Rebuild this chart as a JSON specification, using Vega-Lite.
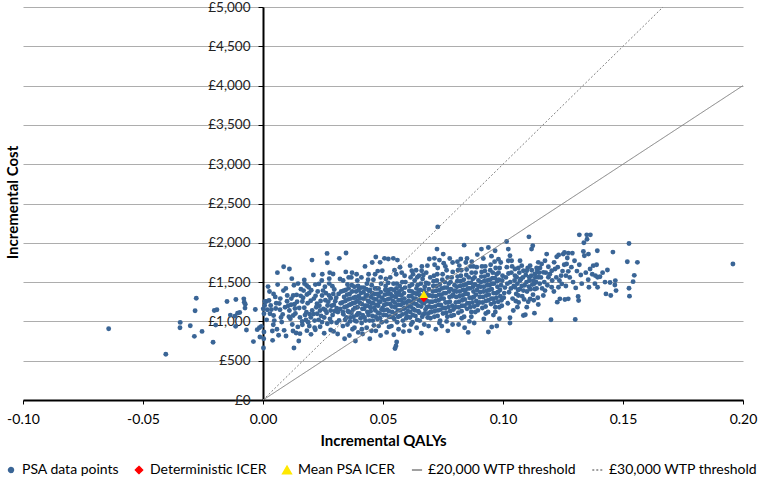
{
"$schema":"https://vega.github.io/schema/vega-lite/v6.json",
"width":720,"height":393,
"autosize":{"type":"none"},
"padding":{"left":23,"top":7,"right":18,"bottom":81},
"background":"white",
"config":{"view":{"stroke":null},"font":"Lato","axis":{"labelFont":"Lato","titleFont":"Lato"},"legend":{"labelFont":"Lato"}},
"datasets":{
"wtp":[{"s":"T2","q":0,"c":0},{"s":"T2","q":0.2,"c":4000},{"s":"T3","q":0,"c":0},{"s":"T3","q":0.166667,"c":5000}],
"icer":[{"s":"D","q":0.067,"c":1290},{"s":"M","q":0.067,"c":1345}],
"psa":[
{"s":"P","q":-0.0643,"c":907},{"s":"P","q":-0.0405,"c":582},{"s":"P","q":-0.0345,"c":987},{"s":"P","q":-0.0346,"c":920},{"s":"P","q":-0.0303,"c":945},{"s":"P","q":-0.0286,"c":810},{"s":"P","q":-0.0283,"c":1135},{"s":"P","q":-0.0278,"c":1295},{"s":"P","q":-0.0254,"c":873},{"s":"P","q":-0.0208,"c":734},{"s":"P","q":-0.0203,"c":1139},{"s":"P","q":-0.0192,"c":1148},{"s":"P","q":-0.0197,"c":953},{"s":"P","q":-0.015,"c":1253},{"s":"P","q":-0.0136,"c":1080},{"s":"P","q":-0.0117,"c":1067},{"s":"P","q":-0.0114,"c":937},{"s":"P","q":-0.0113,"c":1278},{"s":"P","q":-0.0106,"c":1105},{"s":"P","q":-0.0097,"c":1114},{"s":"P","q":-0.008,"c":1287},{"s":"P","q":-0.0078,"c":1245},{"s":"P","q":-0.0075,"c":1169},{"s":"P","q":-0.0074,"c":1219},{"s":"P","q":-0.0069,"c":890},{"s":"P","q":-0.004,"c":743},{"s":"P","q":-0.0032,"c":1152},{"s":"P","q":-0.0024,"c":895},{"s":"P","q":-0.0015,"c":920},{"s":"P","q":-0.0013,"c":801},{"s":"P","q":-0.0007,"c":937},
{"s":"P","q":0.0204,"c":1780},{"s":"P","q":0.0267,"c":1865},{"s":"P","q":0.0268,"c":1747},{"s":"P","q":0.0318,"c":1802},{"s":"P","q":0.0086,"c":1696},{"s":"P","q":0.011,"c":1667},{"s":"P","q":0.006,"c":1620},{"s":"P","q":0.012,"c":1544},{"s":"P","q":0.021,"c":1591},{"s":"P","q":0.0247,"c":1599},{"s":"P","q":0.0172,"c":1527},{"s":"P","q":0.0292,"c":1603},{"s":"P","q":0.0276,"c":1544},{"s":"P","q":0.0321,"c":1540},{"s":"P","q":0.0021,"c":1443},{"s":"P","q":0.0061,"c":1468},{"s":"P","q":0.0129,"c":1460},{"s":"P","q":0.0146,"c":1481},{"s":"P","q":0.0182,"c":1456},{"s":"P","q":0.019,"c":1434},{"s":"P","q":0.0218,"c":1468},{"s":"P","q":0.0233,"c":1477},{"s":"P","q":0.0276,"c":1481},{"s":"P","q":0.0289,"c":1447},{"s":"P","q":0.0297,"c":1405},{"s":"P","q":0.0085,"c":1392},{"s":"P","q":0.0044,"c":1350},{"s":"P","q":0.0169,"c":1392},{"s":"P","q":0.0201,"c":1397},{"s":"P","q":0.025,"c":1392},{"s":"P","q":0.0315,"c":1350},{"s":"P","q":0.0013,"c":1253},{"s":"P","q":0.0025,"c":1266},{"s":"P","q":0.0051,"c":1312},{"s":"P","q":0.0101,"c":1329},{"s":"P","q":0.0126,"c":1329},{"s":"P","q":0.014,"c":1337},{"s":"P","q":0.0157,"c":1325},{"s":"P","q":0.0183,"c":1342},{"s":"P","q":0.0219,"c":1325},{"s":"P","q":0.0246,"c":1329},{"s":"P","q":0.026,"c":1270},{"s":"P","q":0.0282,"c":1295},{"s":"P","q":0.0301,"c":1257},{"s":"P","q":0.0007,"c":1202},{"s":"P","q":0.0032,"c":1202},{"s":"P","q":0.0068,"c":1228},{"s":"P","q":0.01,"c":1257},{"s":"P","q":0.0117,"c":1211},{"s":"P","q":0.0131,"c":1219},{"s":"P","q":0.0164,"c":1253},{"s":"P","q":0.0199,"c":1262},{"s":"P","q":0.0225,"c":1224},{"s":"P","q":0.0269,"c":1202},{"s":"P","q":0.0001,"c":1160},{"s":"P","q":0.0018,"c":1148},{"s":"P","q":0.0053,"c":1164},{"s":"P","q":0.0071,"c":1148},{"s":"P","q":0.011,"c":1139},{"s":"P","q":0.0133,"c":1164},{"s":"P","q":0.0172,"c":1173},{"s":"P","q":0.0181,"c":1118},{"s":"P","q":0.0194,"c":1093},{"s":"P","q":0.021,"c":1093},{"s":"P","q":0.0238,"c":1139},{"s":"P","q":0.026,"c":1143},{"s":"P","q":0.0282,"c":1139},{"s":"P","q":0.0307,"c":1169},{"s":"P","q":0.0004,"c":1097},{"s":"P","q":0.0029,"c":1097},{"s":"P","q":0.0044,"c":1076},{"s":"P","q":0.0082,"c":1089},{"s":"P","q":0.0126,"c":1076},{"s":"P","q":0.0154,"c":1051},{"s":"P","q":0.0163,"c":1000},{"s":"P","q":0.0179,"c":1017},{"s":"P","q":0.0199,"c":1051},{"s":"P","q":0.0226,"c":1097},{"s":"P","q":0.0246,"c":991},{"s":"P","q":0.0268,"c":970},{"s":"P","q":0.0285,"c":991},{"s":"P","q":0.0307,"c":983},{"s":"P","q":0.0317,"c":1013},{"s":"P","q":0.0078,"c":991},{"s":"P","q":0.0043,"c":958},{"s":"P","q":0.0114,"c":1034},{"s":"P","q":0.0164,"c":958},{"s":"P","q":0.0193,"c":941},{"s":"P","q":0.0088,"c":886},{"s":"P","q":0.0125,"c":878},{"s":"P","q":0.0138,"c":852},{"s":"P","q":0.0154,"c":844},{"s":"P","q":0.0183,"c":882},{"s":"P","q":0.0218,"c":894},{"s":"P","q":0.0238,"c":932},{"s":"P","q":0.0282,"c":890},{"s":"P","q":0.0039,"c":878},{"s":"P","q":0.004,"c":759},{"s":"P","q":0.0065,"c":823},{"s":"P","q":0.0096,"c":814},{"s":"P","q":0.0149,"c":751},{"s":"P","q":0.02,"c":835},{"s":"P","q":0.0294,"c":873},{"s":"P","q":0.0311,"c":840},{"s":"P","q":0.0004,"c":865},{"s":"P","q":0.0129,"c":662},{"s":"P","q":0.0002,"c":662},{"s":"P","q":0.0003,"c":780},{"s":"P","q":0.0008,"c":1253},
{"s":"P","q":0.0222,"c":1180},{"s":"P","q":0.0255,"c":1050},{"s":"P","q":0.0272,"c":1250},{"s":"P","q":0.029,"c":1080},{"s":"P","q":0.0305,"c":1300},{"s":"P","q":0.0312,"c":1120},{"s":"P","q":0.0262,"c":1360},{"s":"P","q":0.024,"c":1260},{"s":"P","q":0.0295,"c":1210},{"s":"P","q":0.0232,"c":1020},
{"s":"P","q":0.0015,"c":1020},{"s":"P","q":0.0035,"c":1150},{"s":"P","q":0.0055,"c":1230},{"s":"P","q":0.0075,"c":1050},{"s":"P","q":0.0092,"c":1180},{"s":"P","q":0.0058,"c":900},{"s":"P","q":0.0027,"c":1380},{"s":"P","q":0.0095,"c":1420},{"s":"P","q":0.0072,"c":1290},{"s":"P","q":0.0047,"c":1010},
{"s":"P","q":0.0105,"c":1200},{"s":"P","q":0.0118,"c":1290},{"s":"P","q":0.0122,"c":960},{"s":"P","q":0.0135,"c":1100},{"s":"P","q":0.0142,"c":1250},{"s":"P","q":0.0151,"c":1170},{"s":"P","q":0.0158,"c":1410},{"s":"P","q":0.0167,"c":1300},{"s":"P","q":0.0175,"c":1080},{"s":"P","q":0.0186,"c":1230},{"s":"P","q":0.0192,"c":1360},{"s":"P","q":0.0108,"c":1060},{"s":"P","q":0.0145,"c":930},{"s":"P","q":0.0173,"c":1480},{"s":"P","q":0.0188,"c":990},
{"s":"P","q":0.0205,"c":1140},{"s":"P","q":0.0212,"c":1290},{"s":"P","q":0.0215,"c":1010},{"s":"P","q":0.0228,"c":1380},{"s":"P","q":0.0235,"c":1200},{"s":"P","q":0.0242,"c":1070},{"s":"P","q":0.0252,"c":1160},{"s":"P","q":0.0258,"c":1440},{"s":"P","q":0.0265,"c":1110},{"s":"P","q":0.0275,"c":1330},{"s":"P","q":0.0279,"c":1030},{"s":"P","q":0.0286,"c":1200},{"s":"P","q":0.0293,"c":1350},{"s":"P","q":0.0299,"c":1130},{"s":"P","q":0.0245,"c":1520},{"s":"P","q":0.0278,"c":1620},{"s":"P","q":0.0215,"c":920},{"s":"P","q":0.0255,"c":850},
{"s":"P","q":0.0322,"c":1160},{"s":"P","q":0.0331,"c":1240},{"s":"P","q":0.0335,"c":1090},{"s":"P","q":0.0338,"c":1310},{"s":"P","q":0.0342,"c":1020},{"s":"P","q":0.0345,"c":1400},{"s":"P","q":0.0349,"c":1190},{"s":"P","q":0.0352,"c":960},{"s":"P","q":0.0355,"c":1280},{"s":"P","q":0.0358,"c":1120},{"s":"P","q":0.0361,"c":1350},{"s":"P","q":0.0364,"c":1050},{"s":"P","q":0.0367,"c":1220},{"s":"P","q":0.037,"c":1460},{"s":"P","q":0.0373,"c":900},{"s":"P","q":0.0376,"c":1150},{"s":"P","q":0.0379,"c":1300},{"s":"P","q":0.0382,"c":1010},{"s":"P","q":0.0385,"c":1240},{"s":"P","q":0.0388,"c":1380},{"s":"P","q":0.0391,"c":1080},{"s":"P","q":0.0394,"c":1180},{"s":"P","q":0.0397,"c":860},{"s":"P","q":0.0399,"c":1320},{"s":"P","q":0.0334,"c":1520},{"s":"P","q":0.0345,"c":1630},{"s":"P","q":0.0368,"c":1560},{"s":"P","q":0.039,"c":1600},{"s":"P","q":0.0346,"c":1870},{"s":"P","q":0.034,"c":780},{"s":"P","q":0.036,"c":820},{"s":"P","q":0.0385,"c":750},{"s":"P","q":0.0396,"c":1450},{"s":"P","q":0.0326,"c":1380},{"s":"P","q":0.0352,"c":1470},
{"s":"P","q":0.03235,"c":1230},{"s":"P","q":0.03325,"c":1120},{"s":"P","q":0.03365,"c":1390},{"s":"P","q":0.03395,"c":1180},{"s":"P","q":0.03435,"c":1260},{"s":"P","q":0.03475,"c":1050},{"s":"P","q":0.03505,"c":1340},{"s":"P","q":0.03535,"c":1130},{"s":"P","q":0.03565,"c":1420},{"s":"P","q":0.03595,"c":1210},{"s":"P","q":0.03625,"c":1000},{"s":"P","q":0.03655,"c":1290},{"s":"P","q":0.03685,"c":1110},{"s":"P","q":0.03715,"c":1380},{"s":"P","q":0.03745,"c":1230},{"s":"P","q":0.03775,"c":1060},{"s":"P","q":0.03805,"c":1440},{"s":"P","q":0.03835,"c":1170},{"s":"P","q":0.03865,"c":1310},{"s":"P","q":0.03895,"c":1000},{"s":"P","q":0.03925,"c":1260},{"s":"P","q":0.03955,"c":1100},{"s":"P","q":0.03985,"c":1400},{"s":"P","q":0.0333,"c":940},{"s":"P","q":0.0357,"c":1560},{"s":"P","q":0.0381,"c":920},{"s":"P","q":0.0371,"c":1620},{"s":"P","q":0.0393,"c":1520},
{"s":"P","q":0.0402,"c":1100},{"s":"P","q":0.0405,"c":1230},{"s":"P","q":0.0408,"c":1360},{"s":"P","q":0.0411,"c":980},{"s":"P","q":0.0414,"c":1160},{"s":"P","q":0.0417,"c":1290},{"s":"P","q":0.042,"c":1430},{"s":"P","q":0.0423,"c":1050},{"s":"P","q":0.0426,"c":1200},{"s":"P","q":0.0429,"c":1330},{"s":"P","q":0.0432,"c":920},{"s":"P","q":0.0435,"c":1120},{"s":"P","q":0.0438,"c":1260},{"s":"P","q":0.0441,"c":1390},{"s":"P","q":0.0444,"c":1010},{"s":"P","q":0.0447,"c":1180},{"s":"P","q":0.045,"c":1310},{"s":"P","q":0.0453,"c":1460},{"s":"P","q":0.0456,"c":1070},{"s":"P","q":0.0459,"c":1230},{"s":"P","q":0.0462,"c":950},{"s":"P","q":0.0465,"c":1350},{"s":"P","q":0.0468,"c":1140},{"s":"P","q":0.0471,"c":1280},{"s":"P","q":0.0474,"c":1420},{"s":"P","q":0.0477,"c":1030},{"s":"P","q":0.048,"c":1200},{"s":"P","q":0.0483,"c":1320},{"s":"P","q":0.0486,"c":1100},{"s":"P","q":0.0489,"c":1250},{"s":"P","q":0.0492,"c":1480},{"s":"P","q":0.0495,"c":990},{"s":"P","q":0.0498,"c":1170},{"s":"P","q":0.041,"c":1560},{"s":"P","q":0.0425,"c":1700},{"s":"P","q":0.044,"c":1600},{"s":"P","q":0.0455,"c":1750},{"s":"P","q":0.047,"c":1820},{"s":"P","q":0.0478,"c":1640},{"s":"P","q":0.049,"c":1560},{"s":"P","q":0.0488,"c":1751},{"s":"P","q":0.0415,"c":840},{"s":"P","q":0.0445,"c":780},{"s":"P","q":0.047,"c":880},{"s":"P","q":0.049,"c":820},{"s":"P","q":0.046,"c":1530},{"s":"P","q":0.0433,"c":1480},
{"s":"P","q":0.04035,"c":1290},{"s":"P","q":0.04065,"c":1040},{"s":"P","q":0.04095,"c":1430},{"s":"P","q":0.04125,"c":1220},{"s":"P","q":0.04155,"c":1080},{"s":"P","q":0.04185,"c":1370},{"s":"P","q":0.04215,"c":1160},{"s":"P","q":0.04245,"c":1290},{"s":"P","q":0.04275,"c":1010},{"s":"P","q":0.04305,"c":1410},{"s":"P","q":0.04335,"c":1200},{"s":"P","q":0.04365,"c":1330},{"s":"P","q":0.04395,"c":1080},{"s":"P","q":0.04425,"c":1250},{"s":"P","q":0.04455,"c":1400},{"s":"P","q":0.04485,"c":1130},{"s":"P","q":0.04515,"c":1230},{"s":"P","q":0.04545,"c":1360},{"s":"P","q":0.04575,"c":1010},{"s":"P","q":0.04605,"c":1290},{"s":"P","q":0.04635,"c":1170},{"s":"P","q":0.04665,"c":1420},{"s":"P","q":0.04695,"c":1060},{"s":"P","q":0.04725,"c":1210},{"s":"P","q":0.04755,"c":1350},{"s":"P","q":0.04785,"c":1110},{"s":"P","q":0.04815,"c":1420},{"s":"P","q":0.04845,"c":1250},{"s":"P","q":0.04875,"c":1040},{"s":"P","q":0.04905,"c":1370},{"s":"P","q":0.04935,"c":1150},{"s":"P","q":0.04965,"c":1300},{"s":"P","q":0.0412,"c":900},{"s":"P","q":0.0452,"c":880},{"s":"P","q":0.0482,"c":940},{"s":"P","q":0.0438,"c":1530},{"s":"P","q":0.0467,"c":1600},
{"s":"P","q":0.0506,"c":1802},{"s":"P","q":0.0522,"c":1793},{"s":"P","q":0.0543,"c":1802},{"s":"P","q":0.056,"c":1780},{"s":"P","q":0.0497,"c":1645},{"s":"P","q":0.0571,"c":1688},{"s":"P","q":0.0557,"c":738},{"s":"P","q":0.0554,"c":688},{"s":"P","q":0.055,"c":655},{"s":"P","q":0.0502,"c":1080},{"s":"P","q":0.0505,"c":1210},{"s":"P","q":0.0508,"c":1340},{"s":"P","q":0.0511,"c":1450},{"s":"P","q":0.0514,"c":1000},{"s":"P","q":0.0517,"c":1150},{"s":"P","q":0.052,"c":1280},{"s":"P","q":0.0523,"c":1400},{"s":"P","q":0.0526,"c":1060},{"s":"P","q":0.0529,"c":1220},{"s":"P","q":0.0532,"c":1350},{"s":"P","q":0.0535,"c":940},{"s":"P","q":0.0538,"c":1120},{"s":"P","q":0.0541,"c":1260},{"s":"P","q":0.0544,"c":1480},{"s":"P","q":0.0547,"c":1030},{"s":"P","q":0.055,"c":1180},{"s":"P","q":0.0553,"c":1310},{"s":"P","q":0.0556,"c":1420},{"s":"P","q":0.0559,"c":990},{"s":"P","q":0.0562,"c":1140},{"s":"P","q":0.0565,"c":1270},{"s":"P","q":0.0568,"c":1380},{"s":"P","q":0.0571,"c":1070},{"s":"P","q":0.0574,"c":1210},{"s":"P","q":0.0577,"c":1330},{"s":"P","q":0.058,"c":1500},{"s":"P","q":0.0583,"c":1010},{"s":"P","q":0.0586,"c":1160},{"s":"P","q":0.0589,"c":1290},{"s":"P","q":0.0592,"c":1430},{"s":"P","q":0.0595,"c":1100},{"s":"P","q":0.0598,"c":1240},{"s":"P","q":0.053,"c":1560},{"s":"P","q":0.0555,"c":1600},{"s":"P","q":0.059,"c":1580},{"s":"P","q":0.0515,"c":860},{"s":"P","q":0.0545,"c":830},{"s":"P","q":0.0565,"c":900},{"s":"P","q":0.0585,"c":870},
{"s":"P","q":0.05035,"c":1140},{"s":"P","q":0.05065,"c":1270},{"s":"P","q":0.05095,"c":1400},{"s":"P","q":0.05125,"c":1080},{"s":"P","q":0.05155,"c":1220},{"s":"P","q":0.05185,"c":1350},{"s":"P","q":0.05215,"c":1490},{"s":"P","q":0.05245,"c":1130},{"s":"P","q":0.05275,"c":1290},{"s":"P","q":0.05305,"c":1060},{"s":"P","q":0.05335,"c":1410},{"s":"P","q":0.05365,"c":1190},{"s":"P","q":0.05395,"c":1320},{"s":"P","q":0.05425,"c":1050},{"s":"P","q":0.05455,"c":1400},{"s":"P","q":0.05485,"c":1240},{"s":"P","q":0.05515,"c":1100},{"s":"P","q":0.05545,"c":1360},{"s":"P","q":0.05575,"c":1480},{"s":"P","q":0.05605,"c":1210},{"s":"P","q":0.05635,"c":1060},{"s":"P","q":0.05665,"c":1340},{"s":"P","q":0.05695,"c":1450},{"s":"P","q":0.05725,"c":1140},{"s":"P","q":0.05755,"c":1270},{"s":"P","q":0.05785,"c":1410},{"s":"P","q":0.05815,"c":1090},{"s":"P","q":0.05845,"c":1230},{"s":"P","q":0.05875,"c":1360},{"s":"P","q":0.05905,"c":1170},{"s":"P","q":0.05935,"c":1500},{"s":"P","q":0.05965,"c":1040},{"s":"P","q":0.0512,"c":1540},{"s":"P","q":0.0548,"c":1650},{"s":"P","q":0.0578,"c":1620},{"s":"P","q":0.0525,"c":930},{"s":"P","q":0.0588,"c":950},
{"s":"P","q":0.0613,"c":1709},{"s":"P","q":0.062,"c":1645},{"s":"P","q":0.0661,"c":1645},{"s":"P","q":0.0685,"c":1709},{"s":"P","q":0.0668,"c":1591},{"s":"P","q":0.0643,"c":1561},{"s":"P","q":0.0693,"c":1793},{"s":"P","q":0.0714,"c":1802},{"s":"P","q":0.0725,"c":1920},{"s":"P","q":0.0728,"c":2202},{"s":"P","q":0.0602,"c":1060},{"s":"P","q":0.0605,"c":1190},{"s":"P","q":0.0608,"c":1320},{"s":"P","q":0.0611,"c":1450},{"s":"P","q":0.0614,"c":1120},{"s":"P","q":0.0617,"c":1250},{"s":"P","q":0.062,"c":1380},{"s":"P","q":0.0623,"c":990},{"s":"P","q":0.0626,"c":1160},{"s":"P","q":0.0629,"c":1290},{"s":"P","q":0.0632,"c":1520},{"s":"P","q":0.0635,"c":1070},{"s":"P","q":0.0638,"c":1220},{"s":"P","q":0.0641,"c":1350},{"s":"P","q":0.0644,"c":1460},{"s":"P","q":0.0647,"c":1130},{"s":"P","q":0.065,"c":1270},{"s":"P","q":0.0653,"c":1010},{"s":"P","q":0.0656,"c":1400},{"s":"P","q":0.0659,"c":1190},{"s":"P","q":0.0662,"c":1320},{"s":"P","q":0.0665,"c":1540},{"s":"P","q":0.0668,"c":1090},{"s":"P","q":0.0671,"c":1230},{"s":"P","q":0.0674,"c":1440},{"s":"P","q":0.0677,"c":1150},{"s":"P","q":0.068,"c":1360},{"s":"P","q":0.0683,"c":1260},{"s":"P","q":0.0686,"c":1050},{"s":"P","q":0.0689,"c":1480},{"s":"P","q":0.0692,"c":1190},{"s":"P","q":0.0695,"c":1330},{"s":"P","q":0.0698,"c":1120},{"s":"P","q":0.061,"c":880},{"s":"P","q":0.064,"c":920},{"s":"P","q":0.066,"c":850},{"s":"P","q":0.069,"c":940},{"s":"P","q":0.0625,"c":1600},{"s":"P","q":0.065,"c":1580},{"s":"P","q":0.068,"c":1620},{"s":"P","q":0.0697,"c":1560},
{"s":"P","q":0.06035,"c":1130},{"s":"P","q":0.06065,"c":1260},{"s":"P","q":0.06095,"c":1390},{"s":"P","q":0.06125,"c":1050},{"s":"P","q":0.06155,"c":1190},{"s":"P","q":0.06185,"c":1320},{"s":"P","q":0.06215,"c":1470},{"s":"P","q":0.06245,"c":1080},{"s":"P","q":0.06275,"c":1230},{"s":"P","q":0.06305,"c":1360},{"s":"P","q":0.06335,"c":1140},{"s":"P","q":0.06365,"c":1290},{"s":"P","q":0.06395,"c":1420},{"s":"P","q":0.06425,"c":1020},{"s":"P","q":0.06455,"c":1200},{"s":"P","q":0.06485,"c":1380},{"s":"P","q":0.06515,"c":1110},{"s":"P","q":0.06545,"c":1330},{"s":"P","q":0.06575,"c":1480},{"s":"P","q":0.06605,"c":1250},{"s":"P","q":0.06635,"c":1060},{"s":"P","q":0.06705,"c":1390},{"s":"P","q":0.06735,"c":1100},{"s":"P","q":0.06765,"c":1280},{"s":"P","q":0.06795,"c":1490},{"s":"P","q":0.06825,"c":1180},{"s":"P","q":0.06855,"c":1330},{"s":"P","q":0.06885,"c":1100},{"s":"P","q":0.06915,"c":1410},{"s":"P","q":0.06945,"c":1250},{"s":"P","q":0.06975,"c":1040},{"s":"P","q":0.0615,"c":1560},{"s":"P","q":0.0638,"c":1650},{"s":"P","q":0.0662,"c":1700},{"s":"P","q":0.0617,"c":960},{"s":"P","q":0.0672,"c":960},
{"s":"P","q":0.0751,"c":1856},{"s":"P","q":0.0702,"c":1120},{"s":"P","q":0.0705,"c":1250},{"s":"P","q":0.0708,"c":1380},{"s":"P","q":0.0711,"c":1510},{"s":"P","q":0.0714,"c":1060},{"s":"P","q":0.0717,"c":1190},{"s":"P","q":0.072,"c":1320},{"s":"P","q":0.0723,"c":1450},{"s":"P","q":0.0726,"c":1600},{"s":"P","q":0.0729,"c":1140},{"s":"P","q":0.0732,"c":1270},{"s":"P","q":0.0735,"c":1400},{"s":"P","q":0.0738,"c":1010},{"s":"P","q":0.0741,"c":1210},{"s":"P","q":0.0744,"c":1340},{"s":"P","q":0.0747,"c":1530},{"s":"P","q":0.075,"c":1100},{"s":"P","q":0.0753,"c":1290},{"s":"P","q":0.0756,"c":1430},{"s":"P","q":0.0759,"c":1170},{"s":"P","q":0.0762,"c":1360},{"s":"P","q":0.0765,"c":1650},{"s":"P","q":0.0768,"c":1060},{"s":"P","q":0.0771,"c":1240},{"s":"P","q":0.0774,"c":1480},{"s":"P","q":0.0777,"c":1310},{"s":"P","q":0.078,"c":1130},{"s":"P","q":0.0783,"c":1410},{"s":"P","q":0.0786,"c":1560},{"s":"P","q":0.0789,"c":1200},{"s":"P","q":0.0792,"c":1340},{"s":"P","q":0.0795,"c":1080},{"s":"P","q":0.0798,"c":1460},{"s":"P","q":0.0715,"c":1720},{"s":"P","q":0.0735,"c":1780},{"s":"P","q":0.076,"c":1700},{"s":"P","q":0.079,"c":1750},{"s":"P","q":0.072,"c":900},{"s":"P","q":0.0745,"c":940},{"s":"P","q":0.077,"c":880},{"s":"P","q":0.079,"c":960},
{"s":"P","q":0.07035,"c":1180},{"s":"P","q":0.07065,"c":1320},{"s":"P","q":0.07095,"c":1450},{"s":"P","q":0.07125,"c":1580},{"s":"P","q":0.07155,"c":1130},{"s":"P","q":0.07185,"c":1260},{"s":"P","q":0.07215,"c":1390},{"s":"P","q":0.07245,"c":1520},{"s":"P","q":0.07275,"c":1070},{"s":"P","q":0.07305,"c":1210},{"s":"P","q":0.07335,"c":1340},{"s":"P","q":0.07365,"c":1470},{"s":"P","q":0.07395,"c":1150},{"s":"P","q":0.07425,"c":1290},{"s":"P","q":0.07455,"c":1420},{"s":"P","q":0.07485,"c":1600},{"s":"P","q":0.07515,"c":1170},{"s":"P","q":0.07545,"c":1360},{"s":"P","q":0.07575,"c":1500},{"s":"P","q":0.07605,"c":1240},{"s":"P","q":0.07635,"c":1110},{"s":"P","q":0.07665,"c":1430},{"s":"P","q":0.07695,"c":1560},{"s":"P","q":0.07725,"c":1180},{"s":"P","q":0.07755,"c":1380},{"s":"P","q":0.07785,"c":1250},{"s":"P","q":0.07815,"c":1500},{"s":"P","q":0.07845,"c":1070},{"s":"P","q":0.07875,"c":1320},{"s":"P","q":0.07905,"c":1630},{"s":"P","q":0.07935,"c":1150},{"s":"P","q":0.07965,"c":1390},{"s":"P","q":0.0728,"c":1680},{"s":"P","q":0.0753,"c":1740},{"s":"P","q":0.0778,"c":1800},{"s":"P","q":0.0735,"c":980},{"s":"P","q":0.0765,"c":1000},
{"s":"P","q":0.0802,"c":1180},{"s":"P","q":0.0805,"c":1310},{"s":"P","q":0.0808,"c":1440},{"s":"P","q":0.0811,"c":1570},{"s":"P","q":0.0814,"c":1110},{"s":"P","q":0.0817,"c":1250},{"s":"P","q":0.082,"c":1380},{"s":"P","q":0.0823,"c":1510},{"s":"P","q":0.0826,"c":1650},{"s":"P","q":0.0829,"c":1200},{"s":"P","q":0.0832,"c":1330},{"s":"P","q":0.0835,"c":1460},{"s":"P","q":0.0838,"c":1060},{"s":"P","q":0.0841,"c":1280},{"s":"P","q":0.0844,"c":1400},{"s":"P","q":0.0847,"c":1590},{"s":"P","q":0.085,"c":1160},{"s":"P","q":0.0853,"c":1350},{"s":"P","q":0.0856,"c":1490},{"s":"P","q":0.0859,"c":1230},{"s":"P","q":0.0862,"c":1420},{"s":"P","q":0.0865,"c":1700},{"s":"P","q":0.0868,"c":1120},{"s":"P","q":0.0871,"c":1300},{"s":"P","q":0.0874,"c":1540},{"s":"P","q":0.0877,"c":1380},{"s":"P","q":0.088,"c":1190},{"s":"P","q":0.0883,"c":1470},{"s":"P","q":0.0886,"c":1620},{"s":"P","q":0.0889,"c":1260},{"s":"P","q":0.0892,"c":1400},{"s":"P","q":0.0895,"c":1140},{"s":"P","q":0.0898,"c":1520},{"s":"P","q":0.081,"c":1760},{"s":"P","q":0.0838,"c":1970},{"s":"P","q":0.0824,"c":1793},{"s":"P","q":0.085,"c":1800},{"s":"P","q":0.087,"c":1760},{"s":"P","q":0.0893,"c":1850},{"s":"P","q":0.0815,"c":960},{"s":"P","q":0.084,"c":920},{"s":"P","q":0.086,"c":1000},{"s":"P","q":0.088,"c":980},{"s":"P","q":0.0855,"c":860},
{"s":"P","q":0.08035,"c":1240},{"s":"P","q":0.08065,"c":1380},{"s":"P","q":0.08095,"c":1510},{"s":"P","q":0.08125,"c":1650},{"s":"P","q":0.08155,"c":1180},{"s":"P","q":0.08185,"c":1320},{"s":"P","q":0.08215,"c":1450},{"s":"P","q":0.08245,"c":1580},{"s":"P","q":0.08275,"c":1130},{"s":"P","q":0.08305,"c":1270},{"s":"P","q":0.08335,"c":1400},{"s":"P","q":0.08365,"c":1530},{"s":"P","q":0.08395,"c":1200},{"s":"P","q":0.08425,"c":1350},{"s":"P","q":0.08455,"c":1470},{"s":"P","q":0.08485,"c":1660},{"s":"P","q":0.08515,"c":1230},{"s":"P","q":0.08545,"c":1420},{"s":"P","q":0.08575,"c":1560},{"s":"P","q":0.08605,"c":1300},{"s":"P","q":0.08635,"c":1180},{"s":"P","q":0.08665,"c":1490},{"s":"P","q":0.08695,"c":1620},{"s":"P","q":0.08725,"c":1240},{"s":"P","q":0.08755,"c":1440},{"s":"P","q":0.08785,"c":1310},{"s":"P","q":0.08815,"c":1560},{"s":"P","q":0.08845,"c":1120},{"s":"P","q":0.08875,"c":1340},{"s":"P","q":0.08905,"c":1690},{"s":"P","q":0.08935,"c":1210},{"s":"P","q":0.08965,"c":1450},{"s":"P","q":0.0818,"c":1710},{"s":"P","q":0.0845,"c":1750},{"s":"P","q":0.0877,"c":1700},{"s":"P","q":0.0828,"c":1040},{"s":"P","q":0.0868,"c":1060},
{"s":"P","q":0.0902,"c":1240},{"s":"P","q":0.0905,"c":1370},{"s":"P","q":0.0908,"c":1500},{"s":"P","q":0.0911,"c":1630},{"s":"P","q":0.0914,"c":1170},{"s":"P","q":0.0917,"c":1310},{"s":"P","q":0.092,"c":1440},{"s":"P","q":0.0923,"c":1570},{"s":"P","q":0.0926,"c":1700},{"s":"P","q":0.0929,"c":1260},{"s":"P","q":0.0932,"c":1390},{"s":"P","q":0.0935,"c":1520},{"s":"P","q":0.0938,"c":1120},{"s":"P","q":0.0941,"c":1340},{"s":"P","q":0.0944,"c":1460},{"s":"P","q":0.0947,"c":1650},{"s":"P","q":0.095,"c":1220},{"s":"P","q":0.0953,"c":1410},{"s":"P","q":0.0956,"c":1550},{"s":"P","q":0.0959,"c":1290},{"s":"P","q":0.0962,"c":1480},{"s":"P","q":0.0965,"c":1760},{"s":"P","q":0.0968,"c":1180},{"s":"P","q":0.0971,"c":1360},{"s":"P","q":0.0974,"c":1600},{"s":"P","q":0.0977,"c":1440},{"s":"P","q":0.098,"c":1250},{"s":"P","q":0.0983,"c":1530},{"s":"P","q":0.0986,"c":1680},{"s":"P","q":0.0989,"c":1320},{"s":"P","q":0.0992,"c":1460},{"s":"P","q":0.0995,"c":1200},{"s":"P","q":0.0998,"c":1580},{"s":"P","q":0.091,"c":1920},{"s":"P","q":0.0939,"c":1941},{"s":"P","q":0.0967,"c":1899},{"s":"P","q":0.0974,"c":941},{"s":"P","q":0.0953,"c":928},{"s":"P","q":0.0939,"c":865},{"s":"P","q":0.0985,"c":1034},{"s":"P","q":0.092,"c":1030},{"s":"P","q":0.096,"c":1080},
{"s":"P","q":0.09035,"c":1310},{"s":"P","q":0.09065,"c":1440},{"s":"P","q":0.09095,"c":1570},{"s":"P","q":0.09125,"c":1700},{"s":"P","q":0.09155,"c":1240},{"s":"P","q":0.09185,"c":1380},{"s":"P","q":0.09215,"c":1510},{"s":"P","q":0.09245,"c":1640},{"s":"P","q":0.09275,"c":1190},{"s":"P","q":0.09305,"c":1330},{"s":"P","q":0.09335,"c":1460},{"s":"P","q":0.09365,"c":1590},{"s":"P","q":0.09395,"c":1270},{"s":"P","q":0.09425,"c":1400},{"s":"P","q":0.09455,"c":1530},{"s":"P","q":0.09485,"c":1720},{"s":"P","q":0.09515,"c":1290},{"s":"P","q":0.09545,"c":1480},{"s":"P","q":0.09575,"c":1620},{"s":"P","q":0.09605,"c":1360},{"s":"P","q":0.09635,"c":1240},{"s":"P","q":0.09665,"c":1550},{"s":"P","q":0.09695,"c":1680},{"s":"P","q":0.09725,"c":1300},{"s":"P","q":0.09755,"c":1510},{"s":"P","q":0.09785,"c":1370},{"s":"P","q":0.09815,"c":1620},{"s":"P","q":0.09845,"c":1180},{"s":"P","q":0.09875,"c":1400},{"s":"P","q":0.09905,"c":1750},{"s":"P","q":0.09935,"c":1270},{"s":"P","q":0.09965,"c":1520},{"s":"P","q":0.0918,"c":1800},{"s":"P","q":0.0952,"c":1830},{"s":"P","q":0.0981,"c":1790},{"s":"P","q":0.0928,"c":1100},{"s":"P","q":0.0968,"c":1120},
{"s":"P","q":0.1003,"c":1300},{"s":"P","q":0.1008,"c":1430},{"s":"P","q":0.1012,"c":1560},{"s":"P","q":0.1016,"c":1690},{"s":"P","q":0.102,"c":1230},{"s":"P","q":0.1025,"c":1370},{"s":"P","q":0.103,"c":1500},{"s":"P","q":0.1035,"c":1620},{"s":"P","q":0.104,"c":1290},{"s":"P","q":0.1045,"c":1450},{"s":"P","q":0.105,"c":1580},{"s":"P","q":0.1055,"c":1350},{"s":"P","q":0.106,"c":1480},{"s":"P","q":0.1065,"c":1240},{"s":"P","q":0.107,"c":1410},{"s":"P","q":0.1075,"c":1540},{"s":"P","q":0.108,"c":1320},{"s":"P","q":0.109,"c":1460},{"s":"P","q":0.1095,"c":1590},{"s":"P","q":0.11,"c":1380},{"s":"P","q":0.1105,"c":1250},{"s":"P","q":0.111,"c":1520},{"s":"P","q":0.1115,"c":1410},{"s":"P","q":0.112,"c":1650},{"s":"P","q":0.1125,"c":1340},{"s":"P","q":0.113,"c":1480},{"s":"P","q":0.1135,"c":1560},{"s":"P","q":0.114,"c":1420},{"s":"P","q":0.1145,"c":1300},{"s":"P","q":0.115,"c":1620},
{"s":"P","q":0.1005,"c":1360},{"s":"P","q":0.1018,"c":1480},{"s":"P","q":0.1023,"c":1610},{"s":"P","q":0.1033,"c":1420},{"s":"P","q":0.1038,"c":1700},{"s":"P","q":0.1048,"c":1520},{"s":"P","q":0.1053,"c":1260},{"s":"P","q":0.1063,"c":1400},{"s":"P","q":0.1068,"c":1620},{"s":"P","q":0.1078,"c":1450},{"s":"P","q":0.1083,"c":1560},{"s":"P","q":0.1088,"c":1280},{"s":"P","q":0.1098,"c":1500},{"s":"P","q":0.1103,"c":1680},{"s":"P","q":0.1108,"c":1440},{"s":"P","q":0.1118,"c":1580},{"s":"P","q":0.1128,"c":1270},{"s":"P","q":0.1138,"c":1500},{"s":"P","q":0.1143,"c":1640},{"s":"P","q":0.1153,"c":1480},{"s":"P","q":0.1158,"c":1560},{"s":"P","q":0.1163,"c":1420},{"s":"P","q":0.1172,"c":1500},{"s":"P","q":0.1178,"c":1620},{"s":"P","q":0.1185,"c":1460},{"s":"P","q":0.1195,"c":1600},{"s":"P","q":0.1205,"c":1520},{"s":"P","q":0.1212,"c":1380},{"s":"P","q":0.1222,"c":1560},{"s":"P","q":0.1228,"c":1690},{"s":"P","q":0.1235,"c":1520},{"s":"P","q":0.1248,"c":1640},{"s":"P","q":0.1255,"c":1720},{"s":"P","q":0.1262,"c":1450},{"s":"P","q":0.1278,"c":1560},{"s":"P","q":0.1285,"c":1690},{"s":"P","q":0.1292,"c":1500},{"s":"P","q":0.1308,"c":1640},{"s":"P","q":0.1318,"c":1720},{"s":"P","q":0.1328,"c":1480},{"s":"P","q":0.1345,"c":1620},{"s":"P","q":0.1355,"c":1530},{"s":"P","q":0.1372,"c":1600},{"s":"P","q":0.1383,"c":1480},{"s":"P","q":0.1415,"c":1620},{"s":"P","q":0.1425,"c":1500},
{"s":"P","q":0.1958,"c":1730},{"s":"P","q":0.156,"c":1751},{"s":"P","q":0.1518,"c":1759},{"s":"P","q":0.1525,"c":1991},{"s":"P","q":0.1547,"c":1586},{"s":"P","q":0.1542,"c":1506},{"s":"P","q":0.1525,"c":1422},{"s":"P","q":0.1527,"c":1321},{"s":"P","q":0.1471,"c":1392},{"s":"P","q":0.1466,"c":1464},{"s":"P","q":0.1468,"c":1519},{"s":"P","q":0.1446,"c":1494},{"s":"P","q":0.1449,"c":1329},{"s":"P","q":0.1429,"c":1350},{"s":"P","q":0.1435,"c":1654},{"s":"P","q":0.1458,"c":1882},{"s":"P","q":0.1393,"c":1899},{"s":"P","q":0.1394,"c":1561},{"s":"P","q":0.1394,"c":1434},{"s":"P","q":0.1404,"c":1569},{"s":"P","q":0.1385,"c":1582},{"s":"P","q":0.1376,"c":1709},{"s":"P","q":0.139,"c":1721},{"s":"P","q":0.1363,"c":1667},{"s":"P","q":0.1358,"c":1434},{"s":"P","q":0.1356,"c":1856},{"s":"P","q":0.1339,"c":1835},{"s":"P","q":0.1335,"c":1890},{"s":"P","q":0.1318,"c":2101},{"s":"P","q":0.1349,"c":2101},{"s":"P","q":0.1364,"c":2101},{"s":"P","q":0.135,"c":2046},{"s":"P","q":0.1337,"c":2000},{"s":"P","q":0.1324,"c":1590},{"s":"P","q":0.1313,"c":1316},{"s":"P","q":0.1315,"c":1266},{"s":"P","q":0.1301,"c":1025},{"s":"P","q":0.1303,"c":1426},{"s":"P","q":0.1298,"c":1772},{"s":"P","q":0.1289,"c":1869},{"s":"P","q":0.1272,"c":1869},{"s":"P","q":0.1256,"c":1877},{"s":"P","q":0.1268,"c":1806},{"s":"P","q":0.1251,"c":1856},{"s":"P","q":0.1232,"c":1844},{"s":"P","q":0.1224,"c":1823},{"s":"P","q":0.1265,"c":1730},{"s":"P","q":0.1272,"c":1637},{"s":"P","q":0.1262,"c":1582},{"s":"P","q":0.1242,"c":1582},{"s":"P","q":0.1245,"c":1477},{"s":"P","q":0.1231,"c":1434},{"s":"P","q":0.1272,"c":1287},{"s":"P","q":0.1258,"c":1278},{"s":"P","q":0.1237,"c":1287},{"s":"P","q":0.1226,"c":1245},{"s":"P","q":0.12,"c":1021},{"s":"P","q":0.1217,"c":1667},{"s":"P","q":0.1203,"c":1645},{"s":"P","q":0.1189,"c":1696},{"s":"P","q":0.1213,"c":1751},{"s":"P","q":0.1182,"c":1856},{"s":"P","q":0.1175,"c":1772},{"s":"P","q":0.1161,"c":1730},{"s":"P","q":0.1154,"c":1679},{"s":"P","q":0.1147,"c":1751},{"s":"P","q":0.114,"c":1679},{"s":"P","q":0.1133,"c":1603},{"s":"P","q":0.1147,"c":1561},{"s":"P","q":0.1168,"c":1624},{"s":"P","q":0.1189,"c":1561},{"s":"P","q":0.1203,"c":1434},{"s":"P","q":0.1175,"c":1392},{"s":"P","q":0.1168,"c":1329},{"s":"P","q":0.1147,"c":1215},{"s":"P","q":0.1131,"c":1105},{"s":"P","q":0.1113,"c":1287},{"s":"P","q":0.1099,"c":1181},{"s":"P","q":0.1093,"c":1084},{"s":"P","q":0.1085,"c":1076},{"s":"P","q":0.1133,"c":1413},{"s":"P","q":0.1122,"c":1468},{"s":"P","q":0.1126,"c":1519},{"s":"P","q":0.111,"c":1561},{"s":"P","q":0.1099,"c":1645},{"s":"P","q":0.1113,"c":1709},{"s":"P","q":0.1119,"c":1920},{"s":"P","q":0.1124,"c":1962},{"s":"P","q":0.1108,"c":2076},{"s":"P","q":0.1071,"c":1772},{"s":"P","q":0.1078,"c":1709},{"s":"P","q":0.1085,"c":1645},{"s":"P","q":0.1064,"c":1679},{"s":"P","q":0.105,"c":1667},{"s":"P","q":0.1057,"c":1561},{"s":"P","q":0.1071,"c":1519},{"s":"P","q":0.1085,"c":1392},{"s":"P","q":0.1064,"c":1329},{"s":"P","q":0.105,"c":1434},{"s":"P","q":0.106,"c":1181},{"s":"P","q":0.1043,"c":1139},{"s":"P","q":0.1029,"c":1046},{"s":"P","q":0.1029,"c":979},{"s":"P","q":0.1022,"c":1772},{"s":"P","q":0.1029,"c":1835},{"s":"P","q":0.1036,"c":1772},{"s":"P","q":0.1022,"c":1920},{"s":"P","q":0.1015,"c":2017}
]},
"encoding":{
  "x":{"field":"q","type":"quantitative","scale":{"domain":[-0.1,0.2],"nice":false,"zero":false},
   "axis":{"values":[-0.1,-0.05,0,0.05,0.1,0.15,0.2],"labelExpr":"replace(format(datum.value,'.2f'),'\u2212','-')","labelFlush":false,"labelOverlap":false,"grid":false,"domainColor":"#000000","domainWidth":2,"tickColor":"#000000","tickSize":4,"tickWidth":1,"labelPadding":8,"labelFontSize":14,"labelColor":"#000000","title":"Incremental QALYs","titleFontSize":15,"titleFontWeight":"bold","titleColor":"#000000","titleY":40,"titleBaseline":"middle"}},
  "y":{"field":"c","type":"quantitative","scale":{"domain":[0,5000],"nice":false},
   "axis":{"values":[0,500,1000,1500,2000,2500,3000,3500,4000,4500,5000],"labelExpr":"'£'+format(datum.value,',')","offset":-240,"grid":true,"gridColor":"#ADADAD","gridWidth":1,"domainColor":"#000000","domainWidth":2,"tickColor":"#000000","tickSize":5,"labelPadding":8,"labelFontSize":13.5,"labelColor":"#222222","labelOverlap":false,"title":"Incremental Cost","titleFontSize":15,"titleFontWeight":"bold","titleColor":"#000000","titleX":-251,"titleY":195,"titleAngle":-90,"titleAlign":"center","titleBaseline":"middle"}},
  "color":{"field":"s","type":"nominal","scale":{"domain":["P","D","M","T2","T3"],"range":["#3A6596","#FF0000","#FFE800","#808080","#808080"]},
   "legend":{"orient":"none","legendX":-19,"legendY":456,"direction":"horizontal","title":null,"labelFontSize":14,"labelColor":"#000000","columnPadding":12,"labelOffset":4,
    "labelExpr":"datum.label=='P'?'PSA data points':datum.label=='D'?'Deterministic ICER':datum.label=='M'?'Mean PSA ICER':datum.label=='T2'?'£20,000 WTP threshold':'£30,000 WTP threshold'",
    "encoding":{"symbols":{"update":{"fill":{"scale":"color","field":"value"},"stroke":{"scale":"color","field":"value"},"strokeWidth":{"value":1}}}}}}
},
"layer":[
{"data":{"name":"psa"},
 "mark":{"type":"point","filled":true,"opacity":1,"strokeWidth":0},
 "encoding":{
  "shape":{"field":"s","type":"nominal","scale":{"domain":["P","D","M","T2","T3"],"range":["circle","diamond","triangle-up","stroke","stroke"]}},
  "size":{"field":"s","type":"nominal","scale":{"domain":["P","D","M","T2","T3"],"range":[24,130,120,1600,1600]}}
 }},
{"data":{"name":"wtp"},
 "mark":{"type":"line","strokeWidth":1},
 "encoding":{
  "strokeDash":{"field":"s","type":"nominal","scale":{"domain":["P","D","M","T2","T3"],"range":[[1,0],[1,0],[1,0],[1,0],[2,2]]}}
 }},
{"data":{"name":"icer"},
 "mark":{"type":"point","filled":true,"opacity":1,"strokeWidth":0},
 "encoding":{
  "shape":{"field":"s","type":"nominal","scale":{"domain":["P","D","M","T2","T3"],"range":["circle","diamond","triangle-up","stroke","stroke"]}},
  "size":{"field":"s","type":"nominal","scale":{"domain":["P","D","M","T2","T3"],"range":[24,130,120,1600,1600]}}
 }}
]
}
